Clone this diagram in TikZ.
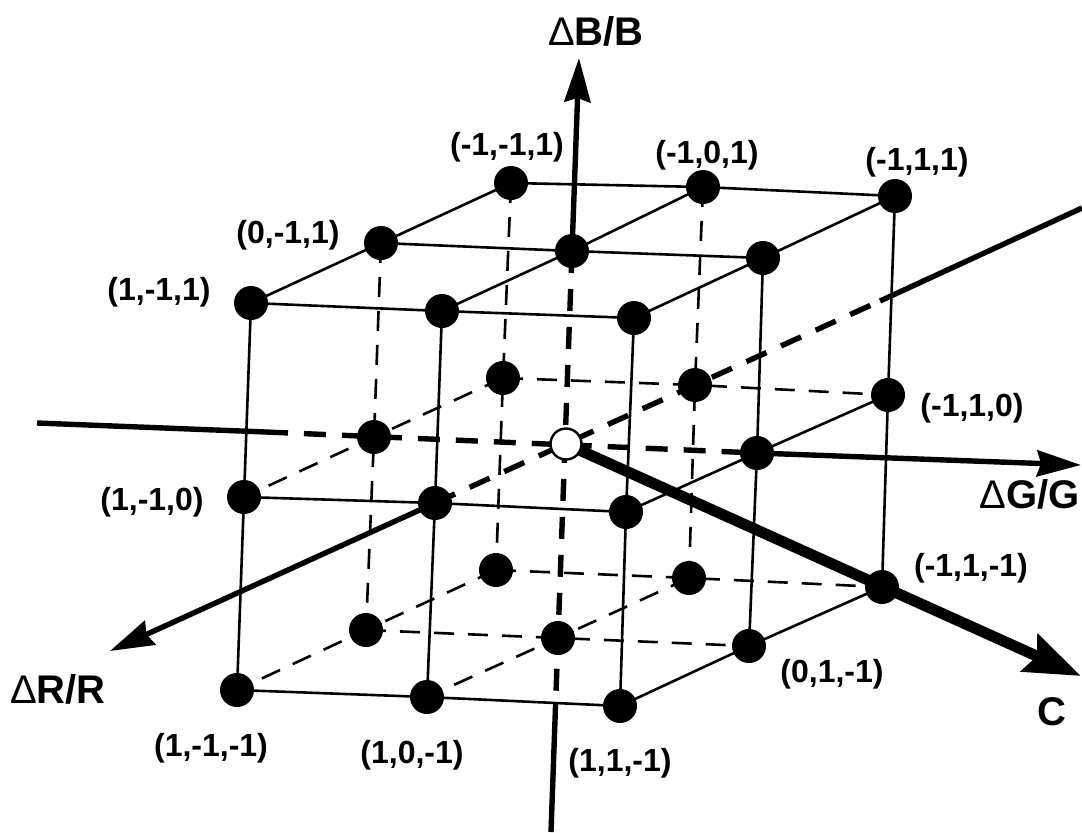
\documentclass[tikz,border=0pt]{standalone}
\usepackage{fontspec}
\setmainfont{Liberation Sans}
\usetikzlibrary{arrows.meta}
\begin{document}
\begin{tikzpicture}[x=0.5pt,y=-0.5pt,
  lat/.style={line width=1.3pt},
  hid/.style={line width=1.3pt, dash pattern=on 10pt off 7pt},
  ax/.style={line width=2.7pt},
  axhid/.style={line width=2.7pt, dash pattern=on 11pt off 8pt},
  axarrow/.style={-{Stealth[length=22pt,width=13pt,inset=2pt]}},
  dot/.style={circle, fill=black, minimum size=17pt, inner sep=0pt},
  odot/.style={circle, fill=white, draw=black, line width=1.2pt, minimum size=15.5pt, inner sep=0pt},
  lbl/.style={font=\bfseries\fontsize{16}{19}\selectfont, inner sep=0pt},
  albl/.style={font=\bfseries\fontsize{20}{24}\selectfont, inner sep=0pt}
]
\useasboundingbox (0,0) rectangle (1082,832);
% lattice positions (r,g,b): m=-1, z=0, p=1
\coordinate (mmp) at (511,183);
\coordinate (mzp) at (703,187);
\coordinate (mpp) at (895,196);
\coordinate (mmz) at (503,378);
\coordinate (mzz) at (695,385);
\coordinate (mpz) at (888,395);
\coordinate (mmm) at (496,570);
\coordinate (mzm) at (689,578);
\coordinate (mpm) at (882,587);
\coordinate (zmp) at (381,243);
\coordinate (zzp) at (572,251);
\coordinate (zpp) at (763,258);
\coordinate (zmz) at (374,437);
\coordinate (zzz) at (566,444);
\coordinate (zpz) at (757,453);
\coordinate (zmm) at (366,630);
\coordinate (zzm) at (558,638);
\coordinate (zpm) at (749,646);
\coordinate (pmp) at (251,303);
\coordinate (pzp) at (442,311);
\coordinate (ppp) at (634,318);
\coordinate (pmz) at (244,497);
\coordinate (pzz) at (435,503);
\coordinate (ppz) at (626,512);
\coordinate (pmm) at (237,690);
\coordinate (pzm) at (427,697);
\coordinate (ppm) at (620,706);
% axis ends
\coordinate (Btip) at (579,58);
\coordinate (Bend) at (551,832);
\coordinate (Bx) at (intersection of zzp--zzm and pzm--ppm);
\coordinate (Gtail) at (37,423);
\coordinate (Gsw) at (266,432);
\coordinate (Gtip) at (1081,465);
\coordinate (Rtip) at (110,651);
\coordinate (Rne) at (880,301);
\coordinate (Rtail) at (1082,208);
\coordinate (Ctip) at (1081,676);
% visible lattice lines
\foreach \ca/\cb in {p/m,p/z,p/p,m/p,z/p} {
  \draw[lat] (\ca m\cb) -- (\ca z\cb) -- (\ca p\cb);
  \draw[lat] (m\ca\cb) -- (z\ca\cb) -- (p\ca\cb);
  \draw[lat] (\ca\cb p) -- (\ca\cb z) -- (\ca\cb m);
}
% hidden lattice lines
\foreach \ca/\cb in {m/m,m/z,z/m} {
  \draw[hid] (\ca m\cb) -- (\ca z\cb) -- (\ca p\cb);
  \draw[hid] (m\ca\cb) -- (z\ca\cb) -- (p\ca\cb);
  \draw[hid] (\ca\cb p) -- (\ca\cb z) -- (\ca\cb m);
}
% axes
\draw[ax, axarrow] (zzp) -- (Btip);
\draw[axhid] (zzp) -- (zzm) -- (Bx);
\draw[ax] (Bx) -- (Bend);
\draw[ax] (Gtail) -- (Gsw);
\draw[axhid] (Gsw) -- (zpz);
\draw[ax, axarrow] (zpz) -- (Gtip);
\draw[ax, axarrow] (pzz) -- (Rtip);
\draw[axhid] (pzz) -- (Rne);
\draw[ax] (Rne) -- (Rtail);
\draw[line width=5.5pt, -{Stealth[length=28pt,width=20pt,inset=4pt]}] (zzz) -- (Ctip);
% dots
\foreach \n in {mmp,mzp,mpp,mmz,mzz,mpz,mmm,mzm,mpm,zmp,zzp,zpp,zmz,zpz,zmm,zzm,zpm,pmp,pzp,ppp,pmz,pzz,ppz,pmm,pzm,ppm}
  \node[dot] (d\n) at (\n) {};
\node[odot] (dzzz) at (zzz) {};
% labels
\node[lbl] (lmmp) at (507,147) {(-1,-1,1)};
\node[lbl] (lmzp) at (707,155) {(-1,0,1)};
\node[lbl] (lmpp) at (917,162) {(-1,1,1)};
\node[lbl] (lzmp) at (288,235) {(0,-1,1)};
\node[lbl] (lpmp) at (159,292) {(1,-1,1)};
\node[lbl] (lmpz) at (972,408) {(-1,1,0)};
\node[lbl] (lpmz) at (152,502) {(1,-1,0)};
\node[lbl] (lmpm) at (971,568) {(-1,1,-1)};
\node[lbl] (lzpm) at (832,674) {(0,1,-1)};
\node[lbl] (lpmm) at (211,748) {(1,-1,-1)};
\node[lbl] (lpzm) at (412,755) {(1,0,-1)};
\node[lbl] (lppm) at (620,763) {(1,1,-1)};
\node[albl] (lB) at (596,31) {{\mdseries Δ}B/B};
\node[albl] (lG) at (1030,494) {{\mdseries Δ}G/G};
\node[albl] (lR) at (58,689) {{\mdseries Δ}R/R};
\node[albl] (lC) at (1052,712) {C};
\end{tikzpicture}
\end{document}
